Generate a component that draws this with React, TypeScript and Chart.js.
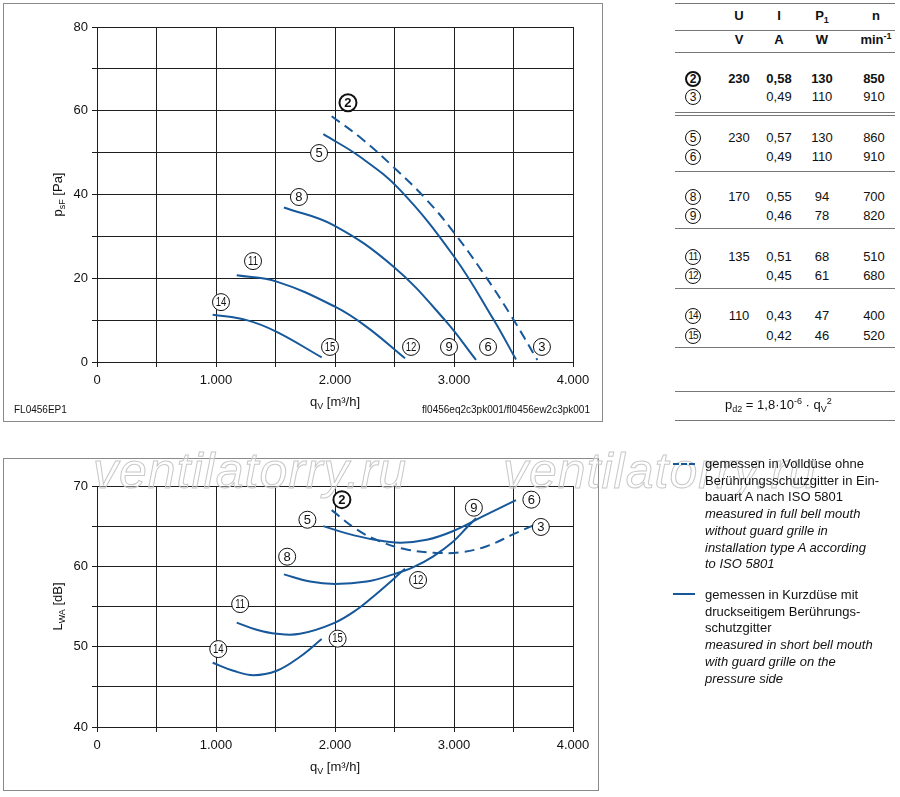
import React, { useEffect, useRef } from "react";
import { Chart, registerables } from "chart.js";
Chart.register(...registerables);

const FONT = '"Liberation Sans", Arial, Helvetica, sans-serif';
const BLUE = "#17589a";
const GRID = "#1e1e1e";

// ---------- pressure chart (q_V [m³/h] -> p_sF [Pa]) ----------
const pC2Flow = [1972, 2230, 2490, 2771, 2995, 3247, 3485, 3700];
const pC2Val = [58.7, 53.2, 46.6, 38.7, 31.1, 21.2, 10.8, 0.5];
const pC5Flow = [1902, 2210, 2546, 3000, 3331, 3521];
const pC5Val = [54.4, 49.0, 41.1, 25.2, 10.2, 0.6];
const pC8Flow = [1571, 1986, 2490, 2924, 3185];
const pC8Val = [36.9, 32.7, 22.8, 10.0, 0.5];
const pC11Flow = [1174, 1510, 2000, 2266, 2588];
const pC11Val = [20.7, 19.2, 13.2, 8.4, 0.9];
const pC14Flow = [972, 1258, 1510, 1888];
const pC14Val = [11.3, 10.0, 7.2, 1.1];

const pLabelIds = ["2", "5", "8", "11", "14", "15", "12", "9", "6", "3"];
const pLabelFlow = [2109, 1866, 1697, 1311, 1042, 1958, 2639, 2958, 3286, 3739];
const pLabelVal = [61.9, 49.9, 39.4, 24.1, 14.3, 3.6, 3.6, 3.6, 3.6, 3.6];

// ---------- sound chart (q_V [m³/h] -> L_WA [dB]) ----------
const sC2Flow = [1972, 2182, 2378, 2602, 2826, 3050, 3275, 3499, 3667];
const sC2Val = [67.0, 64.6, 63.1, 62.1, 61.7, 61.75, 62.5, 64.0, 65.1];
const sC5Flow = [1902, 2098, 2322, 2546, 2770, 2994, 3246, 3521];
const sC5Val = [65.0, 64.1, 63.35, 62.95, 63.3, 64.4, 66.25, 68.25];
const sC8Flow = [1571, 1790, 2000, 2266, 2490, 2658, 2826, 2994, 3106, 3185];
const sC8Val = [59.0, 58.1, 57.8, 58.1, 59.0, 59.9, 61.25, 63.1, 64.8, 66.0];
const sC11Flow = [1174, 1342, 1510, 1706, 1986, 2182, 2350, 2490, 2588];
const sC11Val = [53.0, 52.1, 51.6, 51.6, 52.9, 54.6, 56.6, 58.4, 59.7];
const sC14Flow = [972, 1146, 1314, 1510, 1706, 1888];
const sC14Val = [48.0, 47.0, 46.45, 47.0, 48.75, 50.96];

const sLabelIds = ["2", "5", "8", "11", "14", "15", "12", "9", "6", "3"];
const sLabelFlow = [2058, 1768, 1598, 1203, 1019, 2022, 2698, 3167, 3650, 3730];
const sLabelVal = [68.3, 65.8, 61.2, 55.3, 49.7, 51.0, 58.3, 67.3, 68.3, 64.9];

// ---------- table ----------
const tblIds = ["2", "3", "5", "6", "8", "9", "11", "12", "14", "15"];
const tblU = ["230", "", "230", "", "170", "", "135", "", "110", ""];
const tblI = ["0,58", "0,49", "0,57", "0,49", "0,55", "0,46", "0,51", "0,45", "0,43", "0,42"];
const tblP = ["130", "110", "130", "110", "94", "78", "68", "61", "47", "46"];
const tblN = ["850", "910", "860", "910", "700", "820", "510", "680", "400", "520"];

// ---------- layout ----------
const ROW_Y = [79, 97, 138, 157, 197, 216, 257, 276, 316, 336];
const LINE_Y = [3, 30, 52, 112, 115, 171, 228, 288, 347, 391, 420];
const COL_ID = 693, COL_U = 739, COL_I = 779, COL_P = 822, COL_N = 874;

type Part = { t: string; sub?: boolean; sup?: boolean; bold?: boolean };

function drawRich(ctx: CanvasRenderingContext2D, parts: Part[], x: number, y: number, size: number) {
  const fontOf = (p: Part) => `${p.bold ? "bold " : ""}${p.sub || p.sup ? Math.round(size * 0.72) : size}px ${FONT}`;
  const widths = parts.map((p) => {
    ctx.font = fontOf(p);
    return ctx.measureText(p.t).width;
  });
  const total = widths.reduce((a, b) => a + b, 0);
  let cx = x - total / 2;
  ctx.textAlign = "left";
  ctx.textBaseline = "middle";
  parts.forEach((p, i) => {
    ctx.font = fontOf(p);
    const dy = p.sub ? size * 0.32 : p.sup ? -size * 0.35 : 0;
    ctx.fillText(p.t, cx, y + dy);
    cx += widths[i];
  });
}

function makeDatasets(curves: { f: number[]; v: number[]; dashed: boolean }[]) {
  return curves.map((c) => ({
    data: c.f.map((f, i) => ({ x: f, y: c.v[i] })),
    borderColor: BLUE,
    borderWidth: 2,
    borderDash: c.dashed ? [10, 6] : [],
    pointRadius: 0,
    fill: false,
    tension: 0.4,
    cubicInterpolationMode: "default" as const,
  }));
}

function axis(min: number, max: number, step: number, every: number, fmt: (v: number) => string, isX: boolean, fit: number, pad: number) {
  return {
    type: "linear" as const,
    min,
    max,
    ticks: {
      stepSize: step,
      autoSkip: false,
      maxRotation: 0,
      color: "#111",
      padding: pad,
      font: { family: FONT, size: 13 },
      callback: (v: any) => (Math.round(Number(v)) % every === 0 ? fmt(Number(v)) : ""),
    },
    grid: { color: GRID, lineWidth: 1, tickLength: 5, drawTicks: true },
    border: { color: GRID, width: 1 },
    afterFit: (s: any) => {
      if (isX) s.height = fit;
      else s.width = fit;
    },
  };
}

const fmtFlow = (v: number) => (v === 0 ? "0" : `${Math.round(v / 1000)}.000`);

function labelPlugin(ids: string[], fl: number[], vl: number[], xTitle: Part[], yTitle: Part[], xTitleY: number) {
  return {
    id: "decor",
    afterDraw(chart: any) {
      const ctx: CanvasRenderingContext2D = chart.ctx;
      const xs = chart.scales.x;
      const ys = chart.scales.y;
      ctx.save();
      ids.forEach((id, i) => {
        const px = xs.getPixelForValue(fl[i]);
        const py = ys.getPixelForValue(vl[i]);
        const bold = id === "2";
        ctx.beginPath();
        ctx.arc(px, py, 8.5, 0, Math.PI * 2);
        ctx.fillStyle = "#fff";
        ctx.fill();
        ctx.lineWidth = bold ? 2 : 1;
        ctx.strokeStyle = "#111";
        ctx.stroke();
        ctx.fillStyle = "#111";
        ctx.textAlign = "center";
        ctx.textBaseline = "middle";
        if (id.length > 1) {
          ctx.save();
          ctx.translate(px, py + 0.5);
          ctx.scale(0.8, 1);
          ctx.font = `${bold ? "bold " : ""}12px ${FONT}`;
          ctx.fillText(id, 0, 0);
          ctx.restore();
        } else {
          ctx.font = `${bold ? "bold " : ""}13px ${FONT}`;
          ctx.fillText(id, px, py + 0.5);
        }
      });
      const ca = chart.chartArea;
      ctx.fillStyle = "#111";
      drawRich(ctx, xTitle, (ca.left + ca.right) / 2, xTitleY, 13);
      ctx.save();
      ctx.translate(58, (ca.top + ca.bottom) / 2);
      ctx.rotate(-Math.PI / 2);
      drawRich(ctx, yTitle, 0, 0, 13);
      ctx.restore();
      ctx.restore();
    },
  };
}

const qTitle: Part[] = [{ t: "q" }, { t: "V", sub: true }, { t: " [m³/h]" }];

function Circ({ id }: { id: string }) {
  const bold = id === "2";
  return (
    <span
      style={{
        position: "absolute",
        left: COL_ID - 8,
        width: 16,
        height: 16,
        borderRadius: "50%",
        border: `${bold ? 2 : 1}px solid #111`,
        boxSizing: "border-box",
        fontSize: id.length > 1 ? 10 : 12,
        fontWeight: bold ? "bold" : "normal",
        lineHeight: bold ? "12px" : "14px",
        textAlign: "center",
        letterSpacing: id.length > 1 ? -0.8 : 0,
        top: -8,
      }}
    >
      {id}
    </span>
  );
}

export default function App() {
  const topRef = useRef<HTMLCanvasElement>(null);
  const botRef = useRef<HTMLCanvasElement>(null);

  useEffect(() => {
    document.body.style.margin = "0";
    const top = new Chart(topRef.current!, {
      type: "line",
      data: {
        datasets: makeDatasets([
          { f: pC2Flow, v: pC2Val, dashed: true },
          { f: pC5Flow, v: pC5Val, dashed: false },
          { f: pC8Flow, v: pC8Val, dashed: false },
          { f: pC11Flow, v: pC11Val, dashed: false },
          { f: pC14Flow, v: pC14Val, dashed: false },
        ]) as any,
      },
      options: {
        responsive: false,
        animation: false,
        layout: { padding: { left: 47, right: 33, top: 27, bottom: 33 } },
        plugins: { legend: { display: false }, tooltip: { enabled: false } },
        scales: {
          x: axis(0, 4000, 500, 1000, fmtFlow, true, 30, 6) as any,
          y: axis(0, 80, 10, 20, (v) => String(v), false, 50, 4) as any,
        },
      },
      plugins: [
        labelPlugin(pLabelIds, pLabelFlow, pLabelVal, qTitle, [{ t: "p" }, { t: "sF", sub: true }, { t: " [Pa]" }], 402),
      ],
    });
    const bot = new Chart(botRef.current!, {
      type: "line",
      data: {
        datasets: makeDatasets([
          { f: sC2Flow, v: sC2Val, dashed: true },
          { f: sC5Flow, v: sC5Val, dashed: false },
          { f: sC8Flow, v: sC8Val, dashed: false },
          { f: sC11Flow, v: sC11Val, dashed: false },
          { f: sC14Flow, v: sC14Val, dashed: false },
        ]) as any,
      },
      options: {
        responsive: false,
        animation: false,
        layout: { padding: { left: 47, right: 33, top: 31, bottom: 40 } },
        plugins: { legend: { display: false }, tooltip: { enabled: false } },
        scales: {
          x: axis(0, 4000, 500, 1000, fmtFlow, true, 30, 6) as any,
          y: axis(40, 70, 5, 10, (v) => String(v), false, 50, 4) as any,
        },
      },
      plugins: [
        labelPlugin(sLabelIds, sLabelFlow, sLabelVal, qTitle, [{ t: "L" }, { t: "WA", sub: true }, { t: " [dB]" }], 312),
      ],
    });
    return () => {
      top.destroy();
      bot.destroy();
    };
  }, []);

  const txt: React.CSSProperties = { position: "absolute", fontFamily: FONT, fontSize: 13, color: "#111", whiteSpace: "nowrap" };
  const cell = (x: number, y: number, content: React.ReactNode, bold = false, key?: string) => (
    <div key={key} style={{ ...txt, left: x - 40, width: 80, textAlign: "center", top: y - 8, lineHeight: "16px", fontWeight: bold ? "bold" : "normal" }}>
      {content}
    </div>
  );
  const small = (t: string, dy: number) => (
    <span style={{ fontSize: 9, position: "relative", top: dy, lineHeight: 0, verticalAlign: "baseline" }}>{t}</span>
  );

  const legend1 = [
    ["gemessen in Volldüse ohne", false],
    ["Berührungsschutzgitter in Ein-", false],
    ["bauart A nach ISO 5801", false],
    ["measured in full bell mouth", true],
    ["without guard grille in", true],
    ["installation type A according", true],
    ["to ISO 5801", true],
  ] as [string, boolean][];
  const legend2 = [
    ["gemessen in Kurzdüse mit", false],
    ["druckseitigem Berührungs-", false],
    ["schutzgitter", false],
    ["measured in short bell mouth", true],
    ["with guard grille on the", true],
    ["pressure side", true],
  ] as [string, boolean][];

  const wm: React.CSSProperties = {
    position: "absolute",
    fontFamily: FONT,
    fontStyle: "italic",
    fontSize: 50,
    color: "rgba(255,255,255,0.35)",
    WebkitTextStroke: "1px #c8c8c8",
    whiteSpace: "nowrap",
    pointerEvents: "none",
    lineHeight: "50px",
    letterSpacing: 1,
  } as any;

  return (
    <div style={{ position: "relative", width: 900, height: 797, background: "#fff", overflow: "hidden" }}>
      {/* frames */}
      <div style={{ position: "absolute", left: 3, top: 3, width: 600, height: 419, border: "1.5px solid #8a8a8a", boxSizing: "border-box" }} />
      <div style={{ position: "absolute", left: 3, top: 458, width: 596, height: 333, border: "1.5px solid #8a8a8a", boxSizing: "border-box" }} />
      <canvas ref={topRef} width={606} height={425} style={{ position: "absolute", left: 0, top: 0 }} />
      <canvas ref={botRef} width={606} height={342} style={{ position: "absolute", left: 0, top: 455 }} />

      <div style={{ ...txt, fontSize: 10, left: 14, top: 404 }}>FL0456EP1</div>
      <div style={{ ...txt, fontSize: 10, right: 900 - 590, top: 404 }}>fl0456eq2c3pk001/fl0456ew2c3pk001</div>

      {/* table lines */}
      {LINE_Y.map((y, i) => (
        <div key={"l" + i} style={{ position: "absolute", left: 675, width: 220, top: y, height: 0, borderTop: "1px solid #777" }} />
      ))}
      {cell(COL_U, 16, "U", true, "hU")}
      {cell(COL_I, 16, "I", true, "hI")}
      {cell(COL_P, 16, <span>P{small("1", 3)}</span>, true, "hP")}
      {cell(COL_N + 2, 16, "n", true, "hN")}
      {cell(COL_U, 40, "V", true, "uU")}
      {cell(COL_I, 40, "A", true, "uI")}
      {cell(COL_P, 40, "W", true, "uP")}
      {cell(COL_N + 2, 40, <span>min{small("-1", -5)}</span>, true, "uN")}
      {tblIds.map((id, i) => {
        const b = id === "2";
        return (
          <React.Fragment key={"r" + id}>
            <div style={{ position: "absolute", left: 0, top: ROW_Y[i], fontFamily: FONT, color: "#111" }}>
              <Circ id={id} />
            </div>
            {cell(COL_U, ROW_Y[i], tblU[i], b)}
            {cell(COL_I, ROW_Y[i], tblI[i], b)}
            {cell(COL_P, ROW_Y[i], tblP[i], b)}
            {cell(COL_N, ROW_Y[i], tblN[i], b)}
          </React.Fragment>
        );
      })}
      <div style={{ ...txt, left: 725, top: 397, lineHeight: "16px" }}>
        p{small("d2", 3)} = 1,8·10{small("-6", -5)} · q{small("V", 3)}
        {small("2", -5)}
      </div>

      {/* watermark */}
      <div style={{ ...wm, left: 93, top: 446 }}>ventilatorry.ru</div>
      <div style={{ ...wm, left: 503, top: 446 }}>ventilatorry.ru</div>

      {/* legend */}
      <div style={{ position: "absolute", left: 673, top: 463, width: 22, height: 0, borderTop: `2px dashed ${BLUE}` }} />
      <div style={{ position: "absolute", left: 673, top: 593, width: 22, height: 0, borderTop: `2px solid ${BLUE}` }} />
      {legend1.map(([t, it], i) => (
        <div key={"a" + i} style={{ ...txt, left: 705, top: 456 + i * 16.7, lineHeight: "16px", fontStyle: it ? "italic" : "normal" }}>
          {t}
        </div>
      ))}
      {legend2.map(([t, it], i) => (
        <div key={"b" + i} style={{ ...txt, left: 705, top: 587 + i * 16.7, lineHeight: "16px", fontStyle: it ? "italic" : "normal" }}>
          {t}
        </div>
      ))}
    </div>
  );
}
